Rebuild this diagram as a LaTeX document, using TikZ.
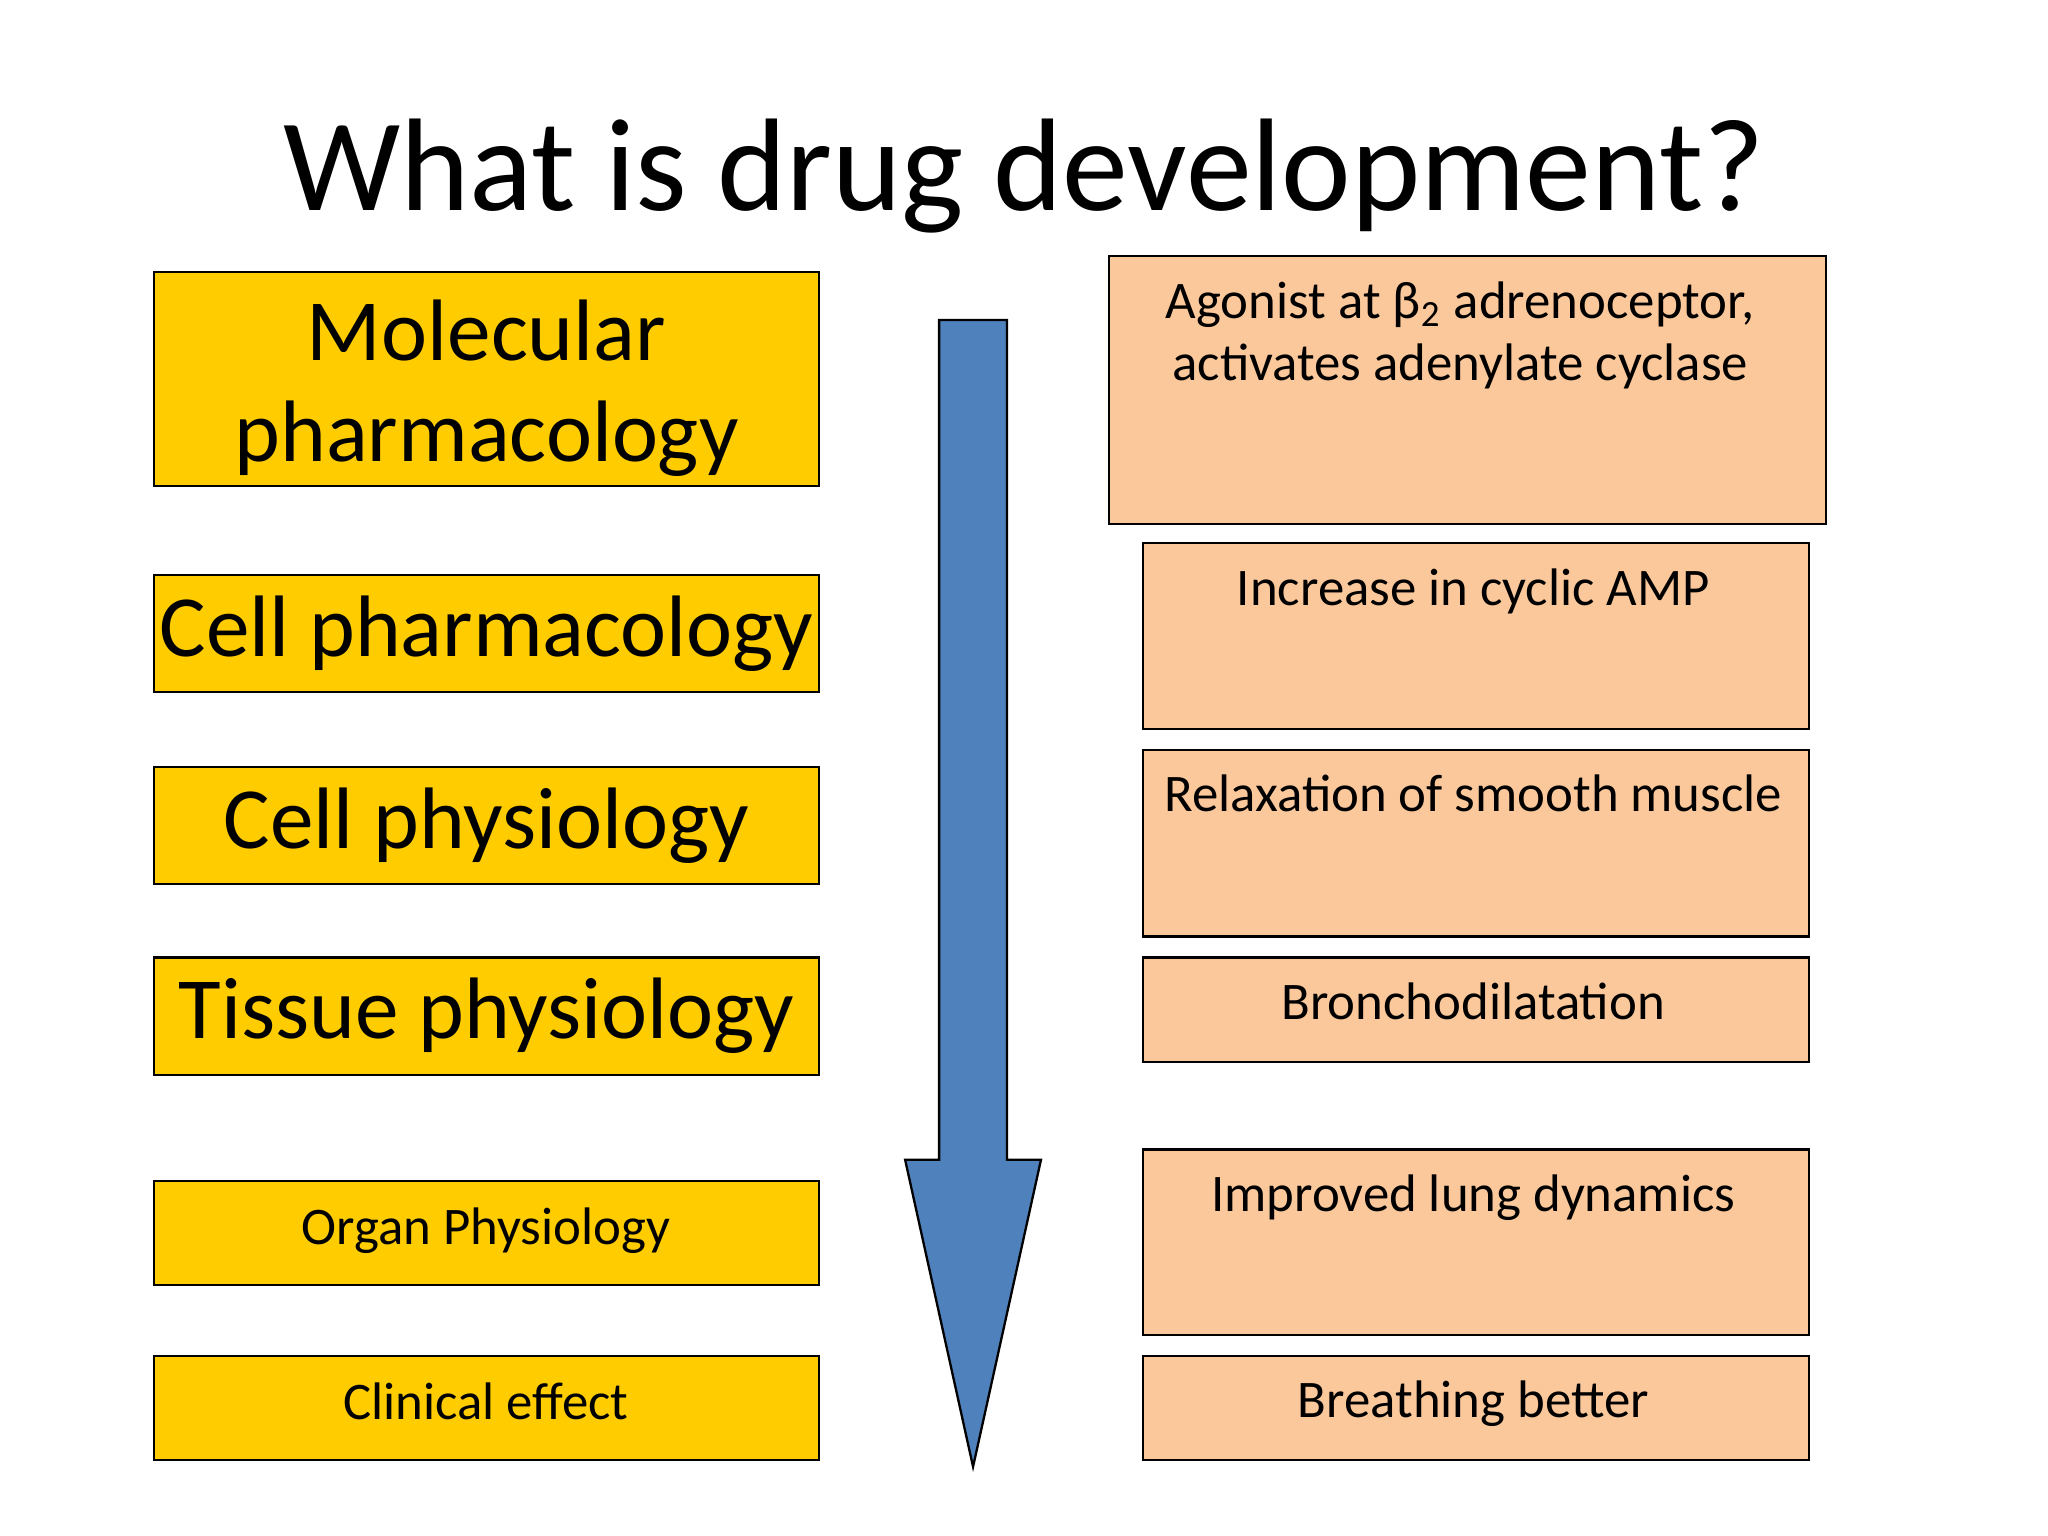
\documentclass[tikz,border=0pt]{standalone}
\usepackage{fontspec}
\setmainfont{Carlito}
\begin{document}
\begin{tikzpicture}[x=0.01cm,y=-0.01cm,
  ybox/.style={draw=black,line width=0.5pt,fill={rgb,255:red,255;green,204;blue,0},inner sep=0pt},
  pbox/.style={draw=black,line width=0.5pt,fill={rgb,255:red,250;green,200;blue,155},inner sep=0pt},
  big/.style={font=\fontsize{19}{22}\selectfont,align=center},
  small/.style={font=\fontsize{11.5}{13.5}\selectfont,align=center}]
\useasboundingbox (0,0) rectangle (1568,1176);
\node[font=\fontsize{28.7}{32}\selectfont] (title) at (784,135) {What is drug development?};
% left boxes
\path[ybox] (118,208) rectangle (627,372) node[midway,big,yshift=-2pt] (l1) {Molecular\\pharmacology};
\path[ybox] (118,440) rectangle (627,530) node[midway,big] (l2) {Cell pharmacology};
\path[ybox] (118,587) rectangle (627,677) node[midway,big] (l3) {Cell physiology};
\path[ybox] (118,733) rectangle (627,823) node[midway,big] (l4) {Tissue physiology};
\path[ybox] (118,904) rectangle (627,984) coordinate (l5c);
\node[small,anchor=north] (l5) at (372,912) {Organ Physiology};
\path[ybox] (118,1038) rectangle (627,1118);
\node[small,anchor=north] (l6) at (372,1046) {Clinical effect};
% right boxes
\path[pbox] (849,196) rectangle (1398,401);
\node[small,anchor=north] (r1) at (1118,203) {Agonist at β\textsubscript{2} adrenoceptor,\\activates adenylate cyclase};
\path[pbox] (875,416) rectangle (1385,558);
\node[small,anchor=north] (r2) at (1128,423) {Increase in cyclic AMP};
\path[pbox] (875,574) rectangle (1385,717);
\node[small,anchor=north] (r3) at (1128,581) {Relaxation of smooth muscle};
\path[pbox] (875,733) rectangle (1385,813);
\node[small,anchor=north] (r4) at (1128,740) {Bronchodilatation};
\path[pbox] (875,880) rectangle (1385,1022);
\node[small,anchor=north] (r5) at (1128,887) {Improved lung dynamics};
\path[pbox] (875,1038) rectangle (1385,1118);
\node[small,anchor=north] (r6) at (1128,1045) {Breathing better};
% arrow
\draw[fill={rgb,255:red,79;green,129;blue,189},line width=0.5pt,line join=miter]
  (719,245) -- (771,245) -- (771,888) -- (797,888) -- (745,1123) -- (693,888) -- (719,888) -- cycle;
\end{tikzpicture}
\end{document}
